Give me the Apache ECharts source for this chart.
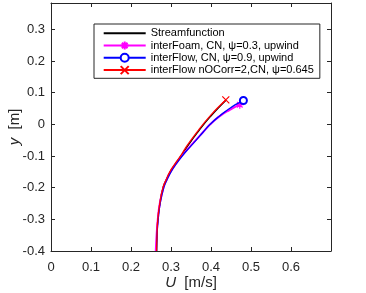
<!DOCTYPE html>
<html>
<head>
<meta charset="utf-8">
<script src="https://cdn.jsdelivr.net/npm/echarts@6/dist/echarts.min.js"></script>
<style>html,body{margin:0;padding:0;background:#fff}#c{width:366px;height:293px}</style>
</head>
<body>
<div id="c"></div>
<script>
// Data
const seriesNames = ['Streamfunction', 'interFoam, CN, \u03c8=0.3, upwind', 'interFlow, CN, \u03c8=0.9, upwind', 'interFlow nOCorr=2,CN, \u03c8=0.645'];
const streamY = [-0.4, -0.35, -0.3, -0.25, -0.2, -0.175, -0.15, -0.125, -0.1, -0.075, -0.05, -0.025, 0, 0.025, 0.05, 0.077];
const streamU = [0.264, 0.265, 0.267, 0.272, 0.280, 0.288, 0.298, 0.311, 0.325, 0.338, 0.352, 0.367, 0.382, 0.399, 0.417, 0.438];
const foamY = [-0.4, -0.35, -0.3, -0.25, -0.2, -0.175, -0.15, -0.125, -0.1, -0.075, -0.05, -0.025, 0, 0.025, 0.045, 0.062];
const foamU = [0.262, 0.264, 0.267, 0.272, 0.281, 0.289, 0.299, 0.312, 0.327, 0.344, 0.362, 0.380, 0.398, 0.421, 0.446, 0.472];
const flowY = [-0.4, -0.35, -0.3, -0.25, -0.2, -0.175, -0.15, -0.125, -0.1, -0.075, -0.05, -0.025, 0, 0.025, 0.045, 0.062, 0.075];
const flowU = [0.264, 0.265, 0.268, 0.273, 0.282, 0.290, 0.300, 0.313, 0.328, 0.345, 0.363, 0.380, 0.398, 0.420, 0.441, 0.461, 0.481];
const corrY = [-0.4, -0.35, -0.3, -0.25, -0.2, -0.175, -0.15, -0.125, -0.1, -0.075, -0.05, -0.025, 0, 0.025, 0.05, 0.077];
const corrU = [0.264, 0.265, 0.267, 0.272, 0.280, 0.288, 0.297, 0.310, 0.324, 0.336, 0.350, 0.365, 0.380, 0.397, 0.415, 0.437];
const xTicks = [0, 0.1, 0.2, 0.3, 0.4, 0.5, 0.6];
const yTicks = [-0.4, -0.3, -0.2, -0.1, 0, 0.1, 0.2, 0.3];

const axisCol = '#262626';
const font = 'Liberation Sans, Arial, Helvetica, sans-serif';

function pairs(us, ys, markLast) {
  return us.map((u, i) => (markLast && i === us.length - 1) ? [u, ys[i]] : { value: [u, ys[i]], symbol: 'none' });
}
function isTick(list, v) { return list.some(t => Math.abs(t - v) < 1e-6); }

const starPath = 'path://M5,0L5,10M0,5L10,5M1.5,1.5L8.5,8.5M1.5,8.5L8.5,1.5';
const xPath = 'path://M0,0L10,10M0,10L10,0';

const chart = echarts.init(document.getElementById('c'), null, { renderer: 'canvas' });
const baseAxis = {
  axisLine: { show: true, onZero: false, lineStyle: { color: axisCol, width: 1 } },
  axisTick: { show: true, inside: true, length: 4, lineStyle: { color: axisCol } },
  splitLine: { show: false }
};
const nameStyle = { fontSize: 15, fontFamily: font, color: axisCol,
  rich: { i: { fontStyle: 'italic', fontSize: 15, fontFamily: font, color: axisCol } } };
chart.setOption({
  animation: false,
  backgroundColor: '#fff',
  grid: { left: 51, right: 35, top: 3, bottom: 42, containLabel: false, outerBoundsMode: 'none' },
  legend: {
    orient: 'vertical', left: 94, top: 24,
    padding: [3.7, 6, 2.7, 8.7],
    itemWidth: 42, itemHeight: 10, itemGap: 1.3,
    borderColor: axisCol, borderWidth: 1, backgroundColor: '#fff',
    textStyle: { fontSize: 11, fontFamily: font, color: '#000' },
    data: seriesNames
  },
  xAxis: [
    Object.assign({}, baseAxis, {
      type: 'value', min: 0, max: 0.7, interval: 0.1, position: 'bottom',
      axisLabel: { color: axisCol, fontSize: 13, fontFamily: font, margin: 10,
        formatter: v => isTick(xTicks, v) ? String(+v.toFixed(1)) : '' },
      name: '{i|U}  [m/s]', nameLocation: 'middle', nameGap: 24, nameMoveOverlap: false, nameTextStyle: nameStyle
    }),
    Object.assign({}, baseAxis, {
      type: 'value', min: 0, max: 0.7, interval: 0.1, position: 'top',
      axisLabel: { show: false }
    })
  ],
  yAxis: [
    Object.assign({}, baseAxis, {
      type: 'value', min: -0.4, max: 0.383, interval: 0.1, position: 'left',
      axisLabel: { color: axisCol, fontSize: 13, fontFamily: font, margin: 6,
        formatter: v => isTick(yTicks, v) ? String(+v.toFixed(1)) : '' },
      name: '{i|y}  [m]', nameLocation: 'middle', nameGap: 29, nameMoveOverlap: false, nameTextStyle: nameStyle
    }),
    Object.assign({}, baseAxis, {
      type: 'value', min: -0.4, max: 0.383, interval: 0.1, position: 'right',
      axisLabel: { show: false }
    })
  ],
  series: [
    { name: seriesNames[0], type: 'line', smooth: 0.5, symbol: 'circle', showSymbol: false,
      lineStyle: { color: '#000', width: 1.3 }, itemStyle: { color: 'rgba(0,0,0,0)', borderWidth: 0 },
      data: pairs(streamU, streamY, false), z: 2 },
    { name: seriesNames[1], type: 'line', smooth: 0.5, symbol: starPath, symbolSize: 8, showAllSymbol: true,
      lineStyle: { color: '#ff00ff', width: 2 }, itemStyle: { color: '#ff00ff', borderColor: '#ff00ff', borderWidth: 1.2 },
      data: pairs(foamU, foamY, true), z: 3 },
    { name: seriesNames[2], type: 'line', smooth: 0.5, symbol: 'emptyCircle', symbolSize: 7, showAllSymbol: true,
      lineStyle: { color: '#0000ff', width: 1.3 }, itemStyle: { color: '#0000ff', borderColor: '#0000ff', borderWidth: 1.2 },
      data: pairs(flowU, flowY, true), z: 4 },
    { name: seriesNames[3], type: 'line', smooth: 0.5, symbol: xPath, symbolSize: 7, showAllSymbol: true,
      lineStyle: { color: '#ff0000', width: 1.3 }, itemStyle: { color: '#ff0000', borderColor: '#ff0000', borderWidth: 1.2 },
      data: pairs(corrU, corrY, true), z: 5 }
  ]
});
</script>
</body>
</html>
